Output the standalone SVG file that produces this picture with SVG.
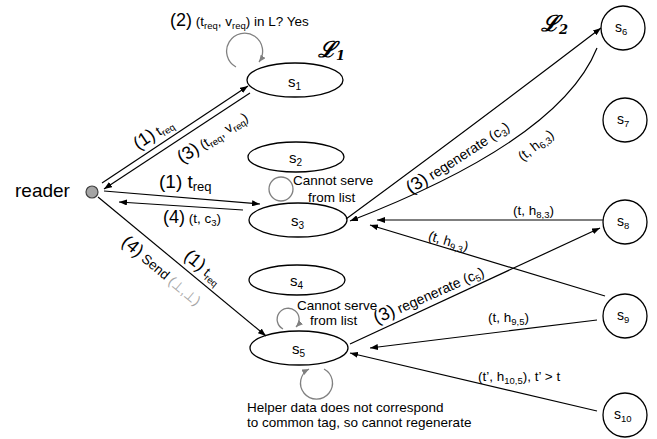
<svg xmlns="http://www.w3.org/2000/svg" width="657" height="439" viewBox="0 0 657 439">
<style>
text{font-family:"Liberation Sans",Arial,sans-serif;fill:#000;font-size:13.5px}
.n{fill:#fff;stroke:#000;stroke-width:1.3}
.e{fill:none;stroke:#000;stroke-width:1.2}
.loop{fill:none;stroke:#808080;stroke-width:1.3}
.big{font-size:18px}
.sub{font-size:9.5px}
text.sl{font-size:15px}
.ss{font-size:10px}
text.cl{font-size:14px}
text.r14{font-size:14px}
text.r19{font-size:19px}
text.L{font-family:"DejaVu Serif",serif;font-weight:bold;font-style:italic;font-size:22px}
.Ls{font-size:13px}
.gr{fill:#a6a6a6}
</style>
<defs>
<marker id="ah" markerUnits="userSpaceOnUse" markerWidth="8" markerHeight="6" refX="8" refY="3" orient="auto"><path d="M0,0 L8,3 L0,6 z" fill="#000"/></marker>
<marker id="ahg" markerUnits="userSpaceOnUse" markerWidth="7" markerHeight="6" refX="7" refY="3" orient="auto"><path d="M0,0 L7,3 L0,6 z" fill="#808080"/></marker>
</defs>

<g id="reader">
<circle cx="92" cy="192" r="6" fill="#a5a5a5" stroke="#404040" stroke-width="1.2"/>
<text class="r19" x="15" y="197">reader</text>
</g>

<g id="s1"><ellipse class="n" cx="295" cy="80" rx="48" ry="17"/><text class="sl" x="288" y="87">s<tspan class="ss" dy="3">1</tspan></text></g>
<g id="s2"><ellipse class="n" cx="296" cy="157" rx="48" ry="15"/><text class="sl" x="289" y="163">s<tspan class="ss" dy="3">2</tspan></text></g>
<g id="s3"><ellipse class="n" cx="298" cy="220" rx="49" ry="17"/><text class="sl" x="291" y="226">s<tspan class="ss" dy="3">3</tspan></text></g>
<g id="s4"><ellipse class="n" cx="297" cy="280" rx="48" ry="15"/><text class="sl" x="290" y="286">s<tspan class="ss" dy="3">4</tspan></text></g>
<g id="s5"><ellipse class="n" cx="299" cy="348" rx="49" ry="17"/><text class="sl" x="292" y="354">s<tspan class="ss" dy="3">5</tspan></text></g>

<g id="s6"><circle class="n" cx="623" cy="28" r="22"/><text class="cl" x="615" y="32">s<tspan class="sub" dy="3">6</tspan></text></g>
<g id="s7"><circle class="n" cx="625" cy="120" r="22"/><text class="cl" x="617" y="124">s<tspan class="sub" dy="3">7</tspan></text></g>
<g id="s8"><circle class="n" cx="625" cy="222" r="22"/><text class="cl" x="617" y="226">s<tspan class="sub" dy="3">8</tspan></text></g>
<g id="s9"><circle class="n" cx="625" cy="316" r="22"/><text class="cl" x="617" y="320">s<tspan class="sub" dy="3">9</tspan></text></g>
<g id="s10"><circle class="n" cx="625" cy="415" r="22"/><text class="cl" x="614" y="419">s<tspan class="sub" dy="3">10</tspan></text></g>

<g id="sets">
<text class="L" x="318" y="57">ℒ<tspan class="Ls" dy="3">1</tspan></text>
<text class="L" x="541" y="31">ℒ<tspan class="Ls" dy="3">2</tspan></text>
</g>

<g id="connectors" marker-end="url(#ah)">
<path class="e" d="M102,183 L248,86"/>
<path class="e" d="M250,93 L104,189"/>
<path class="e" d="M104,191 L260,204"/>
<path class="e" d="M243,210 L119,202"/>
<path class="e" d="M98,197 L266,336"/>
<path class="e" d="M346,219 Q470,128 601,28"/>
<path class="e" d="M597,48 Q560,140 350,221"/>
<path class="e" d="M603,220 L377,220"/>
<path class="e" d="M605,296 L370,225"/>
<path class="e" d="M350,344 L600,228"/>
<path class="e" d="M597,320 L370,348"/>
<path class="e" d="M597,411 L350,353"/>
</g>

<g id="loops">
<path class="loop" d="M236,67 A18,18 0 1 1 259,62" marker-end="url(#ahg)"/>
<circle class="loop" cx="281" cy="189" r="12"/>
<path class="loop" d="M283,329 A11,11 0 1 1 296,327" marker-end="url(#ahg)"/>
<path class="loop" d="M324,369 A16,16 0 1 1 309,369" marker-end="url(#ahg)"/>
</g>

<g id="labels">
<text x="170" y="26"><tspan class="big">(2)</tspan> (t<tspan class="sub" dy="3">req</tspan><tspan dy="-3">, v</tspan><tspan class="sub" dy="3">req</tspan><tspan dy="-3">) in L? Yes</tspan></text>
<g transform="translate(142,156) rotate(-33.6)"><text x="0" y="-7"><tspan class="big">(1)</tspan> t<tspan class="sub" dy="3">req</tspan></text></g>
<g transform="translate(170,145.5) rotate(-33.4)"><text x="0" y="22"><tspan class="big">(3)</tspan> (t<tspan class="sub" dy="3">req</tspan><tspan dy="-3">, v</tspan><tspan class="sub" dy="3">req</tspan><tspan dy="-3">)</tspan></text></g>
<text class="r19" x="159" y="188">(1) t<tspan class="Ls" dy="3">req</tspan></text>
<text x="163" y="223"><tspan class="big">(4)</tspan> (t, c<tspan class="sub" dy="3">3</tspan><tspan dy="-3">)</tspan></text>
<g transform="translate(97,197) rotate(39.6)"><text x="48" y="21"><tspan class="big">(4)</tspan> Send <tspan class="gr">(⊥,⊥)</tspan></text><text x="105" y="-8"><tspan class="big">(1)</tspan> t<tspan class="sub" dy="3">req</tspan></text></g>
<text x="293" y="185">Cannot serve</text>
<text x="308" y="202">from list</text>
<text x="297" y="310">Cannot serve</text>
<text x="310" y="325">from list</text>
<text x="247" y="412">Helper data does not correspond</text>
<text x="247" y="427">to common tag, so cannot regenerate</text>
<g transform="translate(410.8,194.3) rotate(-33)"><text class="r14"><tspan class="big">(3)</tspan> regenerate (c<tspan class="sub" dy="3">3</tspan><tspan dy="-3">)</tspan></text></g>
<g transform="translate(522.4,161.5) rotate(-38)"><text>(t, h<tspan class="sub" dy="3">6,3</tspan><tspan dy="-3">)</tspan></text></g>
<text x="513" y="215">(t, h<tspan class="sub" dy="3">8,3</tspan><tspan dy="-3">)</tspan></text>
<g transform="translate(427.5,239.7) rotate(16.6)"><text>(t, h<tspan class="sub" dy="3">9,3</tspan><tspan dy="-3">)</tspan></text></g>
<g transform="translate(376.4,324) rotate(-24)"><text class="r14"><tspan class="big">(3)</tspan> regenerate (c<tspan class="sub" dy="3">5</tspan><tspan dy="-3">)</tspan></text></g>
<text x="488" y="322">(t, h<tspan class="sub" dy="3">9,5</tspan><tspan dy="-3">)</tspan></text>
<text x="478" y="381">(t’, h<tspan class="sub" dy="3">10,5</tspan><tspan dy="-3">), t’ &gt; t</tspan></text>
</g>
</svg>
